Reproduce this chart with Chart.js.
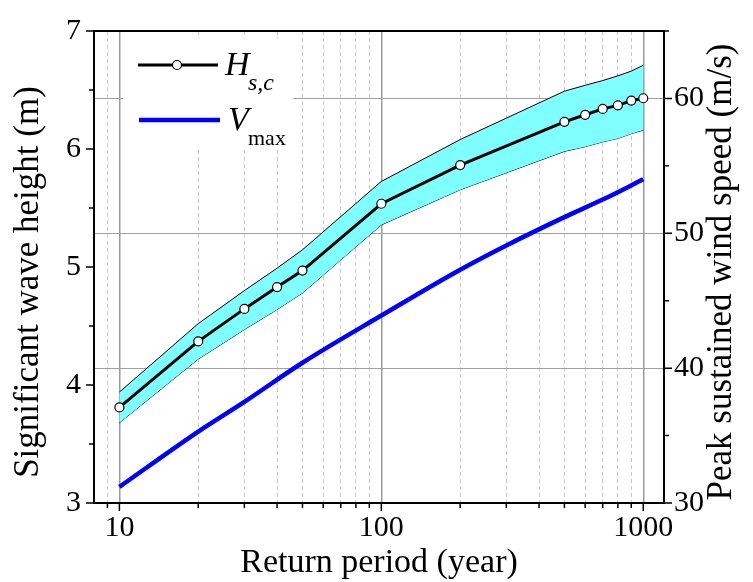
<!DOCTYPE html>
<html lang="en">
<head>
<meta charset="UTF-8">
<title>Return period</title>
<style>
  html, body { margin: 0; padding: 0; background: #fff; }
  #wrap { width: 753px; height: 582px; }
</style>
</head>
<body>
<div id="wrap"><canvas id="myChart"></canvas></div>

<script src="https://cdn.jsdelivr.net/npm/chart.js"></script>
<script>
// values
const periods  = [10, 20, 30, 40, 50, 100, 200, 500, 600, 700, 800, 900, 1000];
const hsc      = [3.81, 4.37, 4.645, 4.83, 4.97, 5.536, 5.864, 6.23, 6.29, 6.34, 6.37, 6.41, 6.43];
const hscUpper = [3.94, 4.52, 4.80, 4.99, 5.146, 5.725, 6.08, 6.49, 6.54, 6.58, 6.62, 6.66, 6.71];
const hscLower = [3.68, 4.22, 4.47, 4.64, 4.78, 5.357, 5.655, 5.98, 6.02, 6.06, 6.09, 6.13, 6.16];

const vmaxPeriods = [10, 20, 30, 50, 100, 200, 300, 500, 700, 1000];
const vmax        = [31.2, 35.3, 37.5, 40.4, 43.9, 47.3, 49.1, 51.2, 52.5, 54.0];

const xTicks  = [9, 10, 20, 30, 40, 50, 60, 70, 80, 90, 100, 200, 300, 400, 500, 600, 700, 800, 900, 1000];
const xLabels = [10, 100, 1000];
const y2Grid  = [40, 50, 60];

const leftTitle  = 'Significant wave height (m)';
const rightTitle = 'Peak sustained wind speed (m/s)';

const serif = 'Liberation Serif, Times New Roman, serif';
const toXY = (xs, ys) => xs.map((x, i) => ({ x: x, y: ys[i] }));

// white legend box with subscripted labels, drawn over the grid
const legendPlugin = {
  id: 'subLegend',
  beforeDatasetsDraw(chart) {
    const { ctx, chartArea: a } = chart;
    const ds = chart.data.datasets;
    const l = a.left, t = a.top;
    ctx.save();
    ctx.fillStyle = '#fff';
    ctx.fillRect(l + 29, t + 8, 170, 111);

    // H s,c
    ctx.strokeStyle = ds[0].borderColor;
    ctx.lineWidth = ds[0].borderWidth;
    ctx.beginPath();
    ctx.moveTo(l + 44, t + 34); ctx.lineTo(l + 124, t + 34);
    ctx.stroke();
    ctx.beginPath();
    ctx.arc(l + 83, t + 34, 4.5, 0, Math.PI * 2);
    ctx.fillStyle = '#fff'; ctx.fill();
    ctx.lineWidth = 1.2; ctx.strokeStyle = '#000'; ctx.stroke();

    ctx.fillStyle = '#000';
    ctx.textBaseline = 'alphabetic';
    ctx.font = 'italic 34px ' + serif;
    ctx.fillText('H', l + 131, t + 44);
    ctx.font = 'italic 24px ' + serif;
    ctx.fillText('s,c', l + 154, t + 59);

    // V max
    ctx.strokeStyle = ds[1].borderColor;
    ctx.lineWidth = ds[1].borderWidth;
    ctx.beginPath();
    ctx.moveTo(l + 45, t + 89); ctx.lineTo(l + 126, t + 89);
    ctx.stroke();
    ctx.fillStyle = '#000';
    ctx.font = 'italic 34px ' + serif;
    ctx.fillText('V', l + 134, t + 99);
    ctx.font = '22px ' + serif;
    ctx.fillText('max', l + 154, t + 114);
    ctx.restore();
  }
};

// plot frame, outward tick marks and the two vertical axis titles
const framePlugin = {
  id: 'frame',
  afterDatasetsDraw(chart) {
    const { ctx, chartArea: a, scales } = chart;
    ctx.save();
    ctx.strokeStyle = '#000';
    ctx.lineWidth = 2;
    ctx.strokeRect(a.left, a.top, a.right - a.left, a.bottom - a.top);
    ctx.lineWidth = 1.5;
    ctx.beginPath();
    scales.x.ticks.forEach(tk => {
      const px = scales.x.getPixelForValue(tk.value);
      const len = xLabels.includes(tk.value) ? 8 : 5;
      ctx.moveTo(px, a.bottom); ctx.lineTo(px, a.bottom + len);
    });
    scales.y.ticks.forEach(tk => {
      const py = scales.y.getPixelForValue(tk.value);
      const len = Number.isInteger(tk.value) ? 8 : 5;
      ctx.moveTo(a.left, py); ctx.lineTo(a.left - len, py);
    });
    scales.y2.ticks.forEach(tk => {
      const py = scales.y2.getPixelForValue(tk.value);
      const len = tk.value % 10 === 0 ? 8 : 5;
      ctx.moveTo(a.right, py); ctx.lineTo(a.right + len, py);
    });
    ctx.stroke();

    // both titles read bottom-to-top, like the reference
    ctx.fillStyle = '#000';
    ctx.font = '35px ' + serif;
    ctx.textAlign = 'center';
    ctx.textBaseline = 'middle';
    ctx.save();
    ctx.translate(scales.y.left + 29, (a.top + a.bottom) / 2 + 15);
    ctx.rotate(-Math.PI / 2);
    ctx.fillText(leftTitle, 0, 0);
    ctx.restore();
    ctx.save();
    ctx.translate(scales.y2.right - 31, (a.top + a.bottom) / 2 + 5);
    ctx.rotate(-Math.PI / 2);
    ctx.fillText(rightTitle, 0, 0);
    ctx.restore();
    ctx.restore();
  }
};

const ctx = document.getElementById('myChart');

new Chart(ctx, {
  type: 'line',
  data: {
    datasets: [
      {
        label: 'Hs,c',
        data: toXY(periods, hsc),
        yAxisID: 'y',
        borderColor: '#000',
        borderWidth: 3,
        pointRadius: 4.5,
        pointBackgroundColor: '#fff',
        pointBorderColor: '#000',
        pointBorderWidth: 1.2,
        tension: 0,
        fill: false
      },
      {
        label: 'Vmax',
        data: toXY(vmaxPeriods, vmax),
        yAxisID: 'y2',
        borderColor: '#0000ff',
        borderWidth: 4.5,
        pointRadius: 0,
        cubicInterpolationMode: 'monotone',
        fill: false
      },
      {
        label: 'upper',
        data: toXY(periods, hscUpper),
        yAxisID: 'y',
        borderColor: '#000',
        borderWidth: 1,
        pointRadius: 0,
        backgroundColor: '#80ffff',
        fill: '+1'
      },
      {
        label: 'lower',
        data: toXY(periods, hscLower),
        yAxisID: 'y',
        borderColor: '#000',
        borderWidth: 1,
        pointRadius: 0,
        fill: false
      }
    ]
  },
  options: {
    responsive: true,
    maintainAspectRatio: false,
    animation: false,
    devicePixelRatio: 1,
    layout: { padding: { top: 24, left: 0, right: 0, bottom: 0 } },
    plugins: {
      legend: { display: false },
      tooltip: { enabled: false }
    },
    scales: {
      x: {
        type: 'logarithmic',
        position: 'bottom',
        min: 8,
        max: 1200,
        afterBuildTicks: s => { s.ticks = xTicks.map(v => ({ value: v })); },
        afterFit: s => { s.height = 79; },
        grid: {
          drawTicks: false,
          color: c => (c.tick && xLabels.includes(c.tick.value)) ? '#9a9a9a' : '#c8c8c8',
          lineWidth: c => (c.tick && xLabels.includes(c.tick.value)) ? 1.5 : 1
        },
        border: {
          display: false,
          dash: c => (c.tick && !xLabels.includes(c.tick.value)) ? [4, 3] : []
        },
        ticks: {
          autoSkip: false,
          maxRotation: 0,
          padding: 7,
          color: '#000',
          font: { family: serif, size: 30 },
          callback: v => xLabels.includes(v) ? String(v) : ''
        },
        title: {
          display: true,
          text: 'Return period (year)',
          color: '#000',
          font: { family: serif, size: 34 },
          padding: { top: 0, bottom: -1 }
        }
      },
      y: {
        type: 'linear',
        position: 'left',
        min: 3,
        max: 7,
        afterFit: s => { s.width = 94; },
        grid: { display: false, drawTicks: false },
        border: { display: false },
        ticks: {
          stepSize: 0.5,
          padding: 13,
          color: '#000',
          font: { family: serif, size: 30 },
          callback: v => Number.isInteger(v) ? String(v) : ''
        }
      },
      y2: {
        type: 'linear',
        position: 'right',
        min: 30,
        max: 65,
        afterFit: s => { s.width = 89; },
        grid: {
          drawTicks: false,
          color: c => (c.tick && y2Grid.includes(c.tick.value)) ? '#a0a0a0' : 'rgba(0,0,0,0)',
          lineWidth: 1
        },
        border: { display: false },
        ticks: {
          stepSize: 5,
          padding: 10,
          color: '#000',
          font: { family: serif, size: 30 },
          callback: v => (v % 10 === 0 && v <= 60) ? String(v) : ''
        }
      }
    }
  },
  plugins: [legendPlugin, framePlugin]
});
</script>
</body>
</html>
